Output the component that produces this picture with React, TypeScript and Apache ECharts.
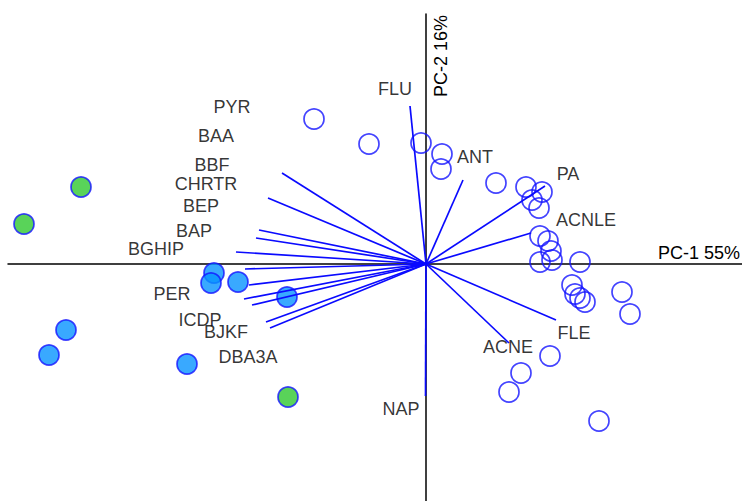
import React, { useEffect, useRef } from "react";
import * as echarts from "echarts";

// Sample scores (PC-1, PC-2)
const openScores: [number, number][] = [
  [-1.12, 1.45], [-0.57, 1.2], [-0.05, 1.21], [0.16, 1.1], [0.15, 0.95],
  [0.7, 0.81], [1.0, 0.77], [1.16, 0.72], [1.06, 0.64], [1.13, 0.56],
  [1.14, 0.28], [1.22, 0.23], [1.25, 0.13], [1.26, 0.04], [1.14, 0.02],
  [1.54, 0.02], [1.46, -0.21], [1.49, -0.3], [1.54, -0.34], [1.59, -0.38],
  [1.96, -0.28], [2.04, -0.5], [1.24, -0.92], [0.95, -1.09], [0.83, -1.28],
  [1.73, -1.57],
];
const blueScores: [number, number][] = [
  [-2.12, -0.09], [-2.15, -0.19], [-1.88, -0.18], [-1.39, -0.33],
  [-3.6, -0.66], [-3.77, -0.91], [-2.39, -1.0],
];
const greenScores: [number, number][] = [
  [-3.45, 0.77], [-4.02, 0.4], [-1.38, -1.33],
];

// Variable loadings (arrow tips)
const loadingNames = [
  "FLU", "ANT", "PA", "ACNLE", "FLE", "ACNE", "NAP",
  "PYR", "BAA", "BBF", "CHRTR", "BEP", "BAP", "BGHIP", "PER", "ICDP", "BJKF", "DBA3A",
];
const loadingTips: [number, number][] = [
  [-0.16, 1.58], [0.37, 0.84], [1.19, 0.78], [1.05, 0.31], [1.3, -0.56], [0.83, -0.79], [-0.005, -1.32],
  [-1.44, 0.91], [-1.58, 0.66], [-1.67, 0.34], [-1.7, 0.26], [-1.9, 0.12], [-1.81, -0.05],
  [-1.77, -0.21], [-1.82, -0.35], [-1.74, -0.41], [-1.6, -0.58], [-1.56, -0.64],
];
// Variable label anchors
const labelPos: [number, number][] = [
  [-0.31, 1.75], [0.49, 1.07], [1.42, 0.9], [1.6, 0.44], [1.48, -0.69], [0.82, -0.83], [-0.25, -1.45],
  [-1.94, 1.57], [-2.1, 1.28], [-2.14, 0.99], [-2.2, 0.8], [-2.25, 0.58], [-2.32, 0.33],
  [-2.7, 0.15], [-2.54, -0.3], [-2.26, -0.56], [-2.0, -0.68], [-1.78, -0.93],
];

const axisTitles = ["PC-1 55%", "PC-2 16%"];
const xRange = [-4.18, 3.16];
const yRange = [-2.37, 2.5];

const FONT = "'Liberation Sans', Arial, sans-serif";

export default function App() {
  const ref = useRef<HTMLDivElement>(null);
  useEffect(() => {
    if (!ref.current) return;
    const chart = echarts.init(ref.current, undefined, { renderer: "svg" });
    chart.setOption({
      animation: false,
      backgroundColor: "#ffffff",
      grid: { left: 8, right: 0, top: 14, bottom: 0, containLabel: false },
      xAxis: {
        type: "value",
        min: xRange[0],
        max: xRange[1],
        axisLine: { show: true, onZero: true, lineStyle: { color: "#000", width: 1.5 } },
        axisTick: { show: false },
        axisLabel: { show: false },
        splitLine: { show: false },
      },
      yAxis: {
        type: "value",
        min: yRange[0],
        max: yRange[1],
        axisLine: { show: true, onZero: true, lineStyle: { color: "#000", width: 1.5 } },
        axisTick: { show: false },
        axisLabel: { show: false },
        splitLine: { show: false },
      },
      graphic: [
        {
          type: "text",
          x: 740,
          y: 253,
          style: {
            text: axisTitles[0],
            fill: "#000",
            font: `18px ${FONT}`,
            align: "right",
            verticalAlign: "middle",
          },
        },
        {
          type: "text",
          x: 441,
          y: 56,
          rotation: Math.PI / 2,
          style: {
            text: axisTitles[1],
            fill: "#000",
            font: `18px ${FONT}`,
            align: "center",
            verticalAlign: "middle",
          },
        },
      ],
      series: [
        {
          type: "scatter",
          z: 2,
          symbol: "circle",
          symbolSize: 20,
          data: openScores,
          itemStyle: { color: "rgba(0,0,0,0)", borderColor: "#1414ff", borderWidth: 1.7 },
        },
        {
          type: "scatter",
          z: 3,
          symbol: "circle",
          symbolSize: 20,
          data: blueScores,
          itemStyle: { color: "#0894ff", borderColor: "#1414ff", borderWidth: 1.7 },
        },
        {
          type: "scatter",
          z: 3,
          symbol: "circle",
          symbolSize: 20,
          data: greenScores,
          itemStyle: { color: "#30c830", borderColor: "#1414ff", borderWidth: 1.7 },
        },
        {
          type: "lines",
          coordinateSystem: "cartesian2d",
          z: 4,
          lineStyle: { color: "#0a0aff", width: 1.7, opacity: 1 },
          data: loadingTips.map((t, i) => ({ name: loadingNames[i], coords: [[0, 0], t] })),
        },
        {
          type: "scatter",
          z: 5,
          symbolSize: 0,
          data: labelPos.map((p, i) => ({ name: loadingNames[i], value: p })),
          label: {
            show: true,
            position: "inside",
            formatter: (p: any) => p.name,
            color: "#000",
            fontSize: 18,
            fontFamily: FONT,
          },
          itemStyle: { color: "rgba(0,0,0,0)" },
        },
      ],
    });
    return () => chart.dispose();
  }, []);
  return (
    <div
      ref={ref}
      style={{ position: "absolute", left: 0, top: 0, width: 742, height: 501 }}
    />
  );
}
